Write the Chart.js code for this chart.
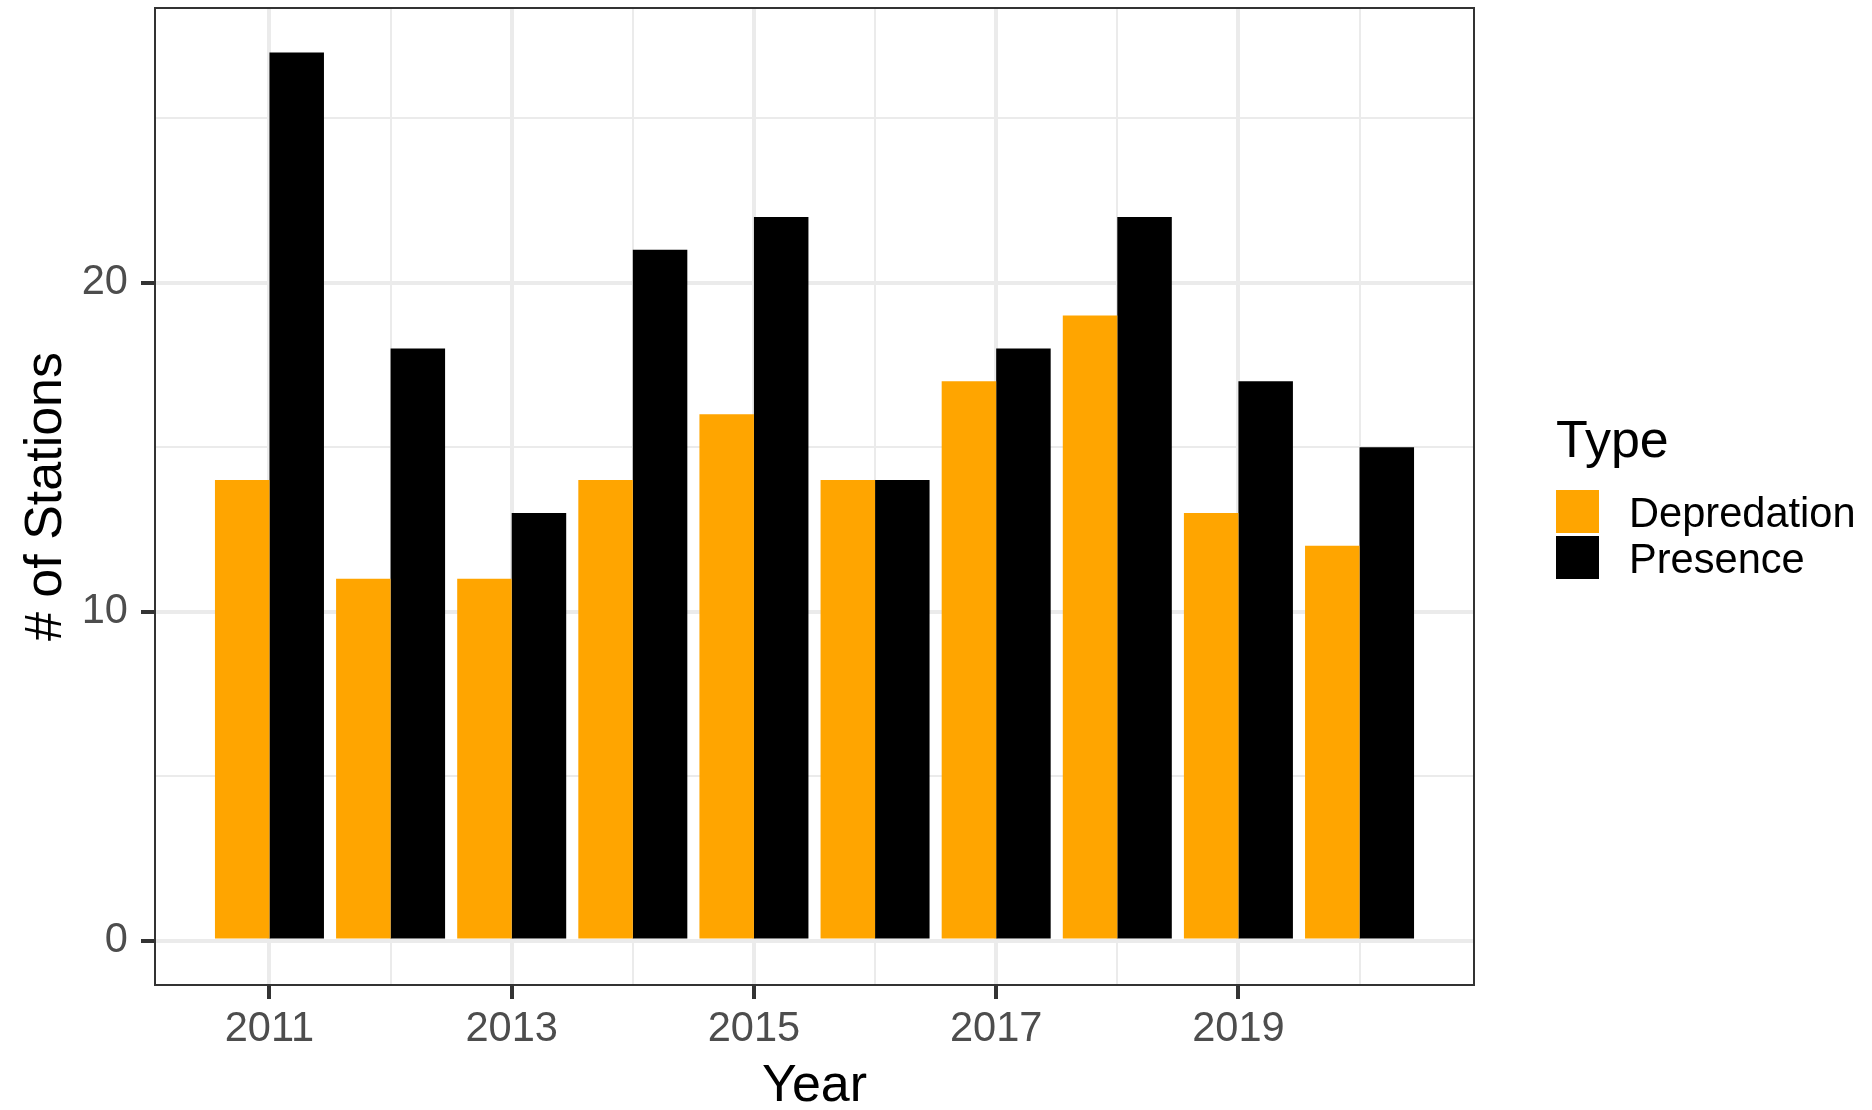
<!DOCTYPE html>
<html>
<head>
<meta charset="utf-8">
<script src="https://cdn.jsdelivr.net/npm/chart.js@4.4.0/dist/chart.umd.min.js"></script>
<style>
  html, body { margin: 0; padding: 0; background: #fff; }
  #wrap { width: 1872px; height: 1110px; }
</style>
</head>
<body>
<div id="wrap"><canvas id="stationChart" width="1872" height="1110"></canvas></div>
<script>
// values
const years = [2011, 2012, 2013, 2014, 2015, 2016, 2017, 2018, 2019, 2020];
const depredation = [14, 11, 11, 14, 16, 14, 17, 19, 13, 12];
const presence = [27, 18, 13, 21, 22, 14, 18, 22, 17, 15];

const xTicks = [2011, 2012, 2013, 2014, 2015, 2016, 2017, 2018, 2019, 2020];
const xLabelled = [2011, 2013, 2015, 2017, 2019];
const yTicks = [0, 5, 10, 15, 20, 25];
const yLabelled = [0, 10, 20];

const FONT = '"Liberation Sans", Arial, sans-serif';
const GRID = '#EBEBEB';
const DARK = '#333333';

// ggplot-ish panel border drawn over bars
const panelBorder = {
    id: 'panelBorder',
    afterDatasetsDraw(chart) {
        const a = chart.chartArea;
        const c = chart.ctx;
        c.save();
        c.strokeStyle = DARK;
        c.lineWidth = 2;
        c.strokeRect(a.left, a.top, a.right - a.left, a.bottom - a.top);
        c.restore();
    }
};

// legend on the right, "Type" title with square keys
const typeLegend = {
    id: 'typeLegend',
    afterDraw(chart) {
        const c = chart.ctx;
        const x0 = chart.chartArea.right + 82;
        c.save();
        c.fillStyle = '#000';
        c.font = '52px ' + FONT;
        c.textAlign = 'left';
        c.textBaseline = 'alphabetic';
        c.fillText('Type', x0, 457);
        c.font = '41.6px ' + FONT;
        c.textBaseline = 'middle';
        chart.data.datasets.forEach(function(ds, i) {
            const y = 490 + i * 46;
            c.fillStyle = ds.backgroundColor;
            c.fillRect(x0, y, 43, 43);
            c.fillStyle = '#000';
            c.fillText(ds.label, x0 + 73, y + 26);
        });
        c.restore();
    }
};

const ctx = document.getElementById('stationChart').getContext('2d');

new Chart(ctx, {
    type: 'bar',
    data: {
        datasets: [{
            label: 'Depredation',
            data: years.map((yr, i) => ({ x: yr, y: depredation[i] })),
            backgroundColor: '#FFA500',
            borderWidth: 0
        }, {
            label: 'Presence',
            data: years.map((yr, i) => ({ x: yr, y: presence[i] })),
            backgroundColor: '#000000',
            borderWidth: 0
        }]
    },
    options: {
        responsive: false,
        animation: false,
        devicePixelRatio: 1,
        categoryPercentage: 0.9,
        barPercentage: 1.0,
        layout: { padding: { top: 8, right: 398, left: 0, bottom: 0 } },
        plugins: {
            legend: { display: false },
            tooltip: { enabled: false }
        },
        scales: {
            x: {
                type: 'linear',
                min: 2010.055,
                max: 2020.945,
                offset: false,
                afterBuildTicks: s => { s.ticks = xTicks.map(v => ({ value: v })); },
                afterFit: s => { s.height = 125; s.paddingLeft = 0; s.paddingRight = 0; },
                border: { display: false },
                grid: {
                    offset: false,
                    color: GRID,
                    lineWidth: c => xLabelled.includes(c.tick && c.tick.value) ? 4 : 2,
                    drawTicks: true,
                    tickLength: 14,
                    tickWidth: 4,
                    tickColor: c => xLabelled.includes(c.tick && c.tick.value) ? DARK : 'rgba(0,0,0,0)'
                },
                ticks: {
                    autoSkip: false,
                    maxRotation: 0,
                    padding: 6,
                    color: '#4D4D4D',
                    font: { family: FONT, size: 41.6 },
                    callback: v => xLabelled.includes(v) ? String(v) : ''
                },
                title: {
                    display: true,
                    text: 'Year',
                    color: '#000',
                    font: { family: FONT, size: 52, lineHeight: 0.9 },
                    padding: { top: 0, bottom: 0 }
                }
            },
            y: {
                type: 'linear',
                min: -1.35,
                max: 28.35,
                afterBuildTicks: s => { s.ticks = yTicks.map(v => ({ value: v })); },
                afterFit: s => { s.width = 155; s.paddingTop = 0; s.paddingBottom = 0; },
                border: { display: false },
                grid: {
                    color: GRID,
                    lineWidth: c => yLabelled.includes(c.tick && c.tick.value) ? 4 : 2,
                    drawTicks: true,
                    tickLength: 14,
                    tickWidth: 4,
                    tickColor: c => yLabelled.includes(c.tick && c.tick.value) ? DARK : 'rgba(0,0,0,0)'
                },
                ticks: {
                    padding: 13,
                    color: '#4D4D4D',
                    font: { family: FONT, size: 41.6 },
                    callback: v => yLabelled.includes(v) ? String(v) : ''
                },
                title: {
                    display: true,
                    text: '# of Stations',
                    color: '#000',
                    font: { family: FONT, size: 52, lineHeight: 1 },
                    padding: { top: 21, bottom: 0 }
                }
            }
        }
    },
    plugins: [panelBorder, typeLegend]
});
</script>
</body>
</html>
